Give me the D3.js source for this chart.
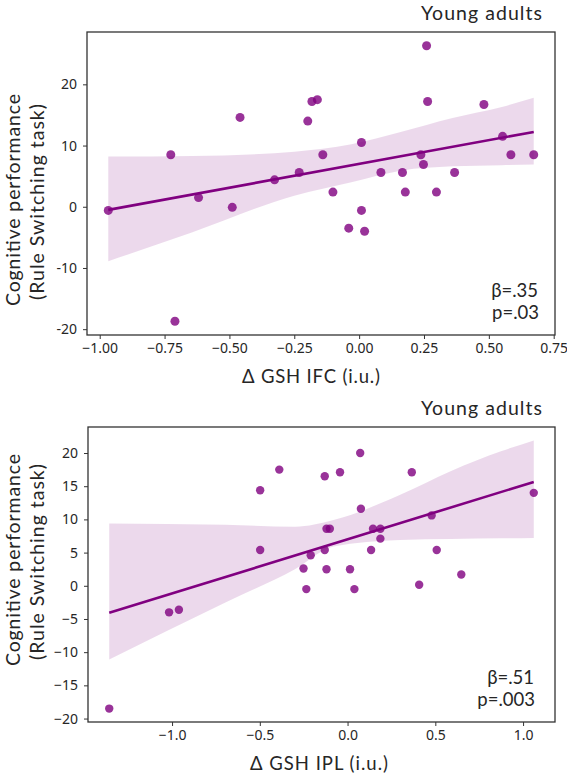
<!DOCTYPE html>
<html>
<head>
<meta charset="utf-8">
<script src="https://cdn.jsdelivr.net/npm/d3@7"></script>
<style>
  body { margin: 0; background: #fff; }
  .tick text { font-family: "Noto Sans", sans-serif; font-size: 14px; fill: #262626; }
  .tick line { stroke: #333; stroke-width: 1; }
  .lbl { font-family: Lato, "Open Sans", sans-serif; fill: #262626; }
</style>
</head>
<body>
<script>
// ---- data ----
// top panel: change in GSH in IFC vs rule switching score
var ifcX = [-0.967, -0.726, -0.71, -0.619, -0.489, -0.459, -0.326, -0.231, -0.198, -0.182,
            -0.161, -0.140, -0.101, -0.04, 0.009, 0.009, 0.021, 0.084, 0.167, 0.178,
            0.238, 0.248, 0.26, 0.264, 0.298, 0.368, 0.481, 0.553, 0.585, 0.673];
var ifcY = [-0.6, 8.5, -18.7, 1.5, -0.1, 14.6, 4.4, 5.6, 14.0, 17.2,
            17.5, 8.5, 2.4, -3.5, 10.5, -0.6, -4.0, 5.6, 5.6, 2.4,
            8.5, 6.9, 26.3, 17.2, 2.4, 5.6, 16.7, 11.5, 8.5, 8.5];
// confidence band edges (bootstrapped in the original)
var ifcBandX  = [-0.967, -0.645, -0.25, -0.03, 0.16, 0.36, 0.55, 0.673];
var ifcBandHi = [8.2, 8.3, 9.0, 10.2, 12.2, 14.5, 16.3, 17.8];
var ifcBandLo = [-8.9, -4.2, 1.8, 4.0, 5.9, 6.6, 6.8, 6.9];
var ifcTicksX = [-1, -0.75, -0.5, -0.25, 0, 0.25, 0.5, 0.75];
var ifcTicksY = [-20, -10, 0, 10, 20];

// bottom panel: change in GSH in IPL
var iplX = [-1.358, -1.017, -0.961, -0.498, -0.498, -0.389, -0.251, -0.235, -0.210, -0.130,
            -0.130, -0.120, -0.101, -0.120, -0.043, 0.014, 0.039, 0.072, 0.076, 0.134,
            0.145, 0.187, 0.187, 0.366, 0.408, 0.479, 0.508, 0.648, 1.061];
var iplY = [-18.5, -4.0, -3.6, 14.4, 5.4, 17.5, 2.6, -0.5, 4.6, 16.5,
            5.4, 8.6, 8.6, 2.5, 17.1, 2.5, -0.5, 20.0, 11.6, 5.4,
            8.6, 8.6, 7.1, 17.1, 0.15, 10.6, 5.4, 1.7, 14.0];
var iplBandX  = [-1.358, -0.696, -0.3, -0.08, 0.3, 0.59, 0.878, 1.061];
var iplBandHi = [9.4, 9.2, 8.9, 9.9, 13.7, 17.3, 20.3, 21.9];
var iplBandLo = [-11.1, -2.5, 2.5, 5.9, 6.9, 7.05, 7.15, 7.2];
var iplTicksX = [-1, -0.5, 0, 0.5, 1];
var iplTicksY = [-20, -15, -10, -5, 0, 5, 10, 15, 20];

var purple = "#800080";

var svg = d3.select("body").append("svg")
  .attr("width", 567).attr("height", 782);

function panel(o) {
  var g = svg.append("g");
  var xs = o.xs, ys = o.ys;

  // matplotlib style 5% margins around everything drawn
  var xmin = d3.min(xs), xmax = d3.max(xs);
  var ymin = d3.min(ys.concat(o.lo)), ymax = d3.max(ys.concat(o.hi));
  var px = (xmax - xmin) * 0.05, py = (ymax - ymin) * 0.05;

  var x = d3.scaleLinear().domain([xmin - px, xmax + px]).range([o.left, o.right]);
  var y = d3.scaleLinear().domain([ymin - py, ymax + py]).range([o.bottom, o.top]);

  // band
  var band = d3.range(o.bx.length).map(function(i) { return [o.bx[i], o.lo[i], o.hi[i]]; });
  g.append("path")
    .datum(band)
    .attr("fill", purple)
    .attr("fill-opacity", 0.15)
    .attr("d", d3.area().curve(d3.curveMonotoneX)
      .x(function(d) { return x(d[0]); })
      .y0(function(d) { return y(d[1]); })
      .y1(function(d) { return y(d[2]); }));

  // least squares fit through the points
  var mx = d3.mean(xs), my = d3.mean(ys);
  var sxy = d3.sum(xs, function(v, i) { return (v - mx) * (ys[i] - my); });
  var sxx = d3.sum(xs, function(v) { return (v - mx) * (v - mx); });
  var b = sxy / sxx, a = my - b * mx;
  g.append("line")
    .attr("x1", x(xmin)).attr("y1", y(a + b * xmin))
    .attr("x2", x(xmax)).attr("y2", y(a + b * xmax))
    .attr("stroke", purple).attr("stroke-width", 2.6);

  // points
  g.selectAll("circle.pt")
    .data(xs.map(function(v, i) { return [v, ys[i]]; }))
    .enter().append("circle")
    .attr("class", "pt")
    .attr("cx", function(d) { return x(d[0]); })
    .attr("cy", function(d) { return y(d[1]); })
    .attr("r", o.r)
    .attr("fill", purple)
    .attr("fill-opacity", 0.8);

  // axes
  var ax = g.append("g")
    .attr("transform", "translate(0," + o.bottom + ")")
    .call(d3.axisBottom(x).tickValues(o.tx).tickFormat(o.fx).tickSize(4).tickPadding(4));
  ax.select(".domain").remove();
  var ay = g.append("g")
    .attr("transform", "translate(" + o.left + ",0)")
    .call(d3.axisLeft(y).tickValues(o.ty).tickFormat(o.fy).tickSize(4).tickPadding(6));
  ay.select(".domain").remove();

  // frame
  g.append("rect")
    .attr("x", o.left).attr("y", o.top)
    .attr("width", o.right - o.left).attr("height", o.bottom - o.top)
    .attr("fill", "none").attr("stroke", "#333").attr("stroke-width", 1.3);

  // texts
  g.append("text").attr("class", "lbl")
    .attr("x", 542).attr("y", o.top - 12)
    .attr("text-anchor", "end").style("font-size", "19.5px")
    .attr("textLength", 121).attr("lengthAdjust", "spacing")
    .text("Young adults");

  g.append("text").attr("class", "lbl")
    .attr("x", o.xlabX).attr("y", o.bottom + 48)
    .attr("text-anchor", "middle").style("font-size", "18.5px")
    .attr("textLength", 138).attr("lengthAdjust", "spacing")
    .text(o.xlab);

  var yl = g.append("g").attr("transform", "translate(0," + o.ylabY + ") rotate(-90)");
  yl.append("text").attr("class", "lbl")
    .attr("x", 0).attr("y", 19.5)
    .attr("text-anchor", "middle").style("font-size", "19.5px")
    .attr("textLength", 212).attr("lengthAdjust", "spacing")
    .text("Cognitive performance");
  yl.append("text").attr("class", "lbl")
    .attr("x", -2).attr("y", 44)
    .attr("text-anchor", "middle").style("font-size", "19.5px")
    .attr("textLength", 196).attr("lengthAdjust", "spacing")
    .text("(Rule Switching task)");

  g.append("text").attr("class", "lbl")
    .attr("x", o.statX).attr("y", o.bottom - 38)
    .attr("text-anchor", "end").style("font-size", "18.5px")
    .text(o.beta);
  g.append("text").attr("class", "lbl")
    .attr("x", o.statX + 1).attr("y", o.bottom - 16)
    .attr("text-anchor", "end").style("font-size", "18.5px")
    .text(o.p);
}

panel({
  xs: ifcX, ys: ifcY, bx: ifcBandX, hi: ifcBandHi, lo: ifcBandLo,
  tx: ifcTicksX, ty: ifcTicksY,
  fx: d3.format(".2f"), fy: function(d) { return String(d); },
  left: 87, right: 555, top: 32, bottom: 335, r: 4.5,
  xlab: "\u0394 GSH IFC (i.u.)", xlabX: 311, ylabY: 200,
  beta: "\u03b2=.35", p: "p=.03", statX: 538
});

panel({
  xs: iplX, ys: iplY, bx: iplBandX, hi: iplBandHi, lo: iplBandLo,
  tx: iplTicksX, ty: iplTicksY,
  fx: d3.format(".1f"), fy: d3.format("d"),
  left: 88, right: 555, top: 427, bottom: 722, r: 4.2,
  xlab: "\u0394 GSH IPL (i.u.)", xlabX: 319, ylabY: 560,
  beta: "\u03b2=.51", p: "p=.003", statX: 534
});
</script>
</body>
</html>
